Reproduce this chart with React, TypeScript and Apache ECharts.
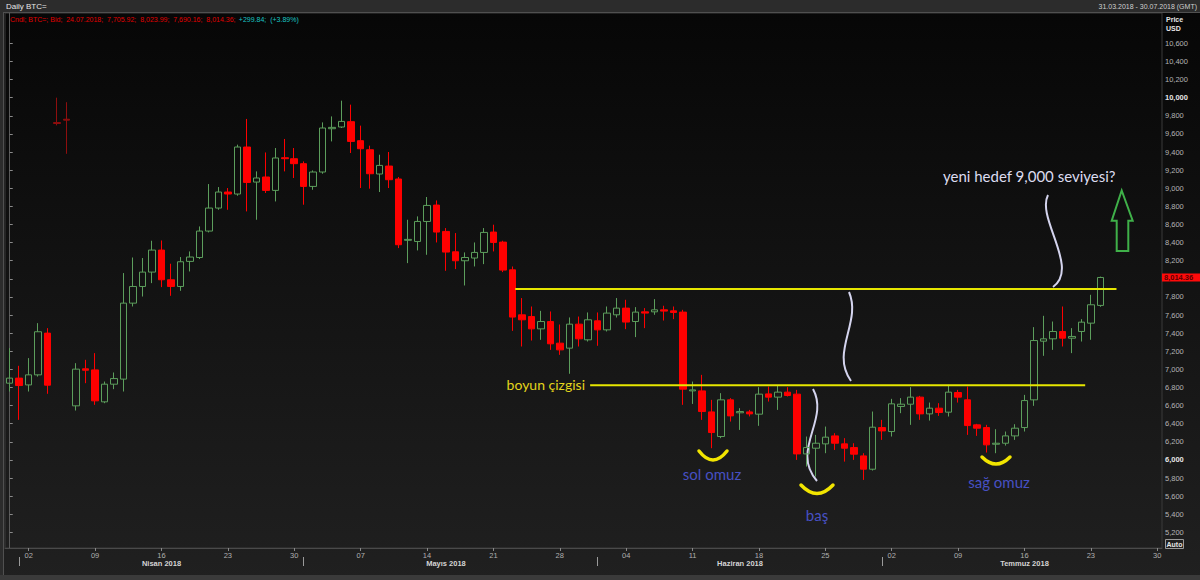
import React, { useEffect, useRef } from "react";
import * as echarts from "echarts";

// ---------- data ----------
const firstDayUTC = Date.UTC(2018, 2, 31); // 31.03.2018
const dayCount = 122; // 31.03.2018 - 30.07.2018

// daily BTC= candles, 31.03.2018 .. 24.07.2018
const open = [
  6847, 6903, 6828, 6939, 7400, 9725, 9762, 6597, 7006, 6994, 6641, 6836, 6892, 7731, 7915, 8074,
  8317, 7989, 7915, 8192, 8235, 8527, 8781, 8958, 8936, 9455, 9068, 9124, 8976, 9337, 9326,
  9271, 9020, 9179, 9657, 9676, 9735, 9525, 9425, 9157, 9245, 9102, 8425, 8412, 8633, 8814, 8523,
  8298, 8199, 8229, 8291, 8516, 8405, 8099, 7602, 7583, 7447, 7528, 7289, 7234, 7499, 7326,
  7536, 7436, 7602, 7676, 7528, 7635, 7635, 7657, 7646, 7632, 6762, 6762, 6530, 6258, 6663,
  6520, 6530, 6505, 6729, 6693, 6748, 6726, 6066, 6129, 6177, 6265, 6177, 6136, 6044, 5897,
  6357, 6313, 6590, 6615, 6693, 6508, 6571, 6527, 6744, 6663, 6387, 6357, 6173, 6184, 6265,
  6357, 6663, 7311, 7337, 7418, 7344, 7418, 7510, 7705.92,
];
const close = [
  6903, 6821, 6939, 7415, 6825, 9715, 9752, 7002, 6990, 6652, 6836, 6898, 7731, 7915, 8074, 8317,
  7989, 7915, 8188, 8240, 8527, 8781, 8958, 8936, 9455, 9064, 9113, 8976, 9334, 9326, 9271,
  9020, 9179, 9665, 9672, 9738, 9517, 9436, 9160, 9252, 9094, 8376, 8435, 8633, 8810, 8516, 8295,
  8199, 8235, 8291, 8512, 8401, 8096, 7577, 7547, 7447, 7528, 7282, 7215, 7499, 7337, 7547,
  7436, 7621, 7676, 7522, 7632, 7621, 7657, 7643, 7628, 6781, 6773, 6534, 6302, 6663, 6486,
  6534, 6508, 6726, 6693, 6748, 6711, 6066, 6136, 6184, 6251, 6184, 6129, 6063, 5897, 6361,
  6320, 6619, 6615, 6693, 6508, 6571, 6523, 6748, 6693, 6379, 6350, 6166, 6184, 6265, 6350,
  6655, 7318, 7337, 7418, 7344, 7363, 7521, 7713, 8014.36,
];
const low = [
  6755, 6442, 6755, 6920, 6730, 9694, 9380, 6545, 6847, 6608, 6626, 6781, 6755, 7694, 7804, 7952,
  7908, 7812, 7867, 8081, 8218, 8512, 8762, 8762, 8917, 8744, 8652, 8947, 8854, 9186, 9113,
  8818, 8983, 9160, 9517, 9665, 9389, 9002, 8995, 8958, 9002, 8339, 8173, 8313, 8265, 8401, 8088,
  8107, 7926, 8136, 8162, 8302, 8074, 7425, 7252, 7318, 7326, 7215, 7160, 6951, 7252, 7307,
  7260, 7418, 7572, 7444, 7356, 7455, 7602, 7539, 7554, 6608, 6618, 6442, 6129, 6240, 6423,
  6331, 6480, 6376, 6644, 6552, 6700, 6000, 5926, 5815, 6074, 6110, 5981, 6000, 5779, 5882,
  6221, 6258, 6516, 6387, 6442, 6434, 6486, 6479, 6633, 6276, 6265, 6081, 6074, 6158, 6221,
  6313, 6597, 7149, 7215, 7252, 7179, 7307, 7326, 7690.16,
];
const high = [
  7234, 7039, 7124, 7510, 7455, 10000, 9950, 7068, 7105, 7179, 6865, 6965, 8063, 8235, 8229, 8420,
  8423, 8166, 8240, 8302, 8578, 9046, 9013, 9002, 9481, 9765, 9186, 9395, 9444, 9544, 9444,
  9296, 9197, 9727, 9793, 9967, 9923, 9691, 9470, 9370, 9400, 9124, 8652, 8689, 8903, 8865, 8560,
  8505, 8291, 8401, 8560, 8597, 8420, 8136, 7787, 7694, 7646, 7639, 7495, 7573, 7583, 7628,
  7628, 7694, 7787, 7768, 7687, 7676, 7775, 7702, 7694, 7657, 6865, 6939, 6663, 6737, 6682,
  6571, 6552, 6803, 6810, 6817, 6803, 6773, 6258, 6276, 6368, 6295, 6240, 6184, 6074, 6534,
  6442, 6674, 6682, 6803, 6707, 6633, 6626, 6829, 6773, 6810, 6398, 6387, 6339, 6313, 6394,
  6718, 7466, 7591, 7528, 7694, 7455, 7554, 7823, 8023.99,
];
const badPrintDays = [5, 6]; // off-market prints on 05.04 and 06.04

const neckline = 6825; // boyun çizgisi
const neckSpan = [61.2, 113.4];
const resistance = 7888;
const resistanceSpan = [53.3, 116.7];

const lastChange = "+299.84";
const lastChangePct = "(+3.89%)";

const priceTicks = [
  5200, 5400, 5600, 5800, 6000, 6200, 6400, 6600, 6800, 7000, 7200, 7400, 7600, 7800, 8000,
  8200, 8400, 8600, 8800, 9000, 9200, 9400, 9600, 9800, 10000, 10200, 10400, 10600,
];
// 8,000 sits under the last-price tag, so it has no label of its own
const priceLabels = [
  5200, 5400, 5600, 5800, 6000, 6200, 6400, 6600, 6800, 7000, 7200, 7400, 7600, 7800,
  8200, 8400, 8600, 8800, 9000, 9200, 9400, 9600, 9800, 10000, 10200, 10400, 10600,
];
const boldTicks = [6000, 10000];
const monthNames: Record<string, string> = {
  "04": "Nisan 2018",
  "05": "Mayıs 2018",
  "06": "Haziran 2018",
  "07": "Temmuz 2018",
};

// ---------- helpers ----------
const dates: string[] = [];
for (let i = 0; i < dayCount; i++) {
  dates.push(new Date(firstDayUTC + i * 86400000).toISOString().slice(0, 10));
}
const isMonday = (v: string) => new Date(v + "T00:00:00Z").getUTCDay() === 1;
const fmt = (v: number, d = 0) =>
  v.toLocaleString("en-US", { minimumFractionDigits: d, maximumFractionDigits: d });

const AXIS_FONT = "Liberation Sans";
const NOTE_FONT = "Lato";

export default function App() {
  const ref = useRef<HTMLDivElement>(null);

  useEffect(() => {
    if (!ref.current) return;
    const chart = echarts.init(ref.current, null, { renderer: "svg" });

    const candles = open.map((o, i) => {
      const value = [o, close[i], low[i], high[i]];
      if (badPrintDays.includes(i)) {
        return {
          value,
          itemStyle: {
            color: "#8e0e0e",
            color0: "#8e0e0e",
            borderColor: "#8e0e0e",
            borderColor0: "#8e0e0e",
          },
        };
      }
      return value;
    });
    const n = open.length - 1;
    const infoRed = `Cndl; BTC=; Bid;  ${dates[n].slice(8, 10)}.${dates[n].slice(5, 7)}.${dates[n].slice(0, 4)};  ${fmt(open[n], 2)};  ${fmt(high[n], 2)};  ${fmt(low[n], 2)};  ${fmt(close[n], 2)};`;

    const staticGraphics: any[] = [
      // frame
      { type: "rect", shape: { x: 0, y: 0, width: 1200, height: 12 }, style: { fill: "#2c2c2c" }, silent: true },
      { type: "rect", shape: { x: 0, y: 0, width: 3, height: 580 }, style: { fill: "#2c2c2c" }, silent: true },
      { type: "rect", shape: { x: 0, y: 575, width: 1200, height: 5 }, style: { fill: "#3a3a3a" }, silent: true },
      { type: "line", shape: { x1: 3, y1: 12.5, x2: 1200, y2: 12.5 }, style: { stroke: "#505050", lineWidth: 1 }, silent: true },
      { type: "line", shape: { x1: 3.5, y1: 12, x2: 3.5, y2: 575 }, style: { stroke: "#505050", lineWidth: 1 }, silent: true },
      // header texts
      {
        type: "text",
        x: 6,
        y: 6.5,
        style: { text: "Daily BTC=", fill: "#e6e6e6", font: `8px '${AXIS_FONT}'`, verticalAlign: "middle" },
        silent: true,
      },
      {
        type: "text",
        x: 1197,
        y: 6.5,
        style: {
          text: "31.03.2018 - 30.07.2018 (GMT)",
          fill: "#cfcfcf",
          font: `7px '${AXIS_FONT}'`,
          align: "right",
          verticalAlign: "middle",
        },
        silent: true,
      },
      {
        type: "text",
        x: 10,
        y: 19,
        style: {
          text: `{r|${infoRed}} {c|${lastChange};  ${lastChangePct}}`,
          verticalAlign: "middle",
          rich: {
            r: { fill: "#e00000", font: `7px '${AXIS_FONT}'` },
            c: { fill: "#19c4c4", font: `7px '${AXIS_FONT}'` },
          },
        },
        silent: true,
      },
      {
        type: "text",
        x: 1166,
        y: 19,
        style: { text: "Price", fill: "#e6e6e6", font: `bold 7px '${AXIS_FONT}'`, verticalAlign: "middle" },
        silent: true,
      },
      {
        type: "text",
        x: 1166,
        y: 28,
        style: { text: "USD", fill: "#e6e6e6", font: `bold 7px '${AXIS_FONT}'`, verticalAlign: "middle" },
        silent: true,
      },
      {
        type: "rect",
        shape: { x: 1165.5, y: 539.5, width: 18, height: 9 },
        style: { fill: "#202020", stroke: "#9a9a9a", lineWidth: 1 },
        silent: true,
      },
      {
        type: "text",
        x: 1174.5,
        y: 544,
        style: { text: "Auto", fill: "#e6e6e6", font: `bold 7px '${AXIS_FONT}'`, align: "center", verticalAlign: "middle" },
        silent: true,
      },
      // annotations
      {
        type: "text",
        x: 585,
        y: 384,
        style: { text: "boyun çizgisi", fill: "#e3d51c", font: `14px '${NOTE_FONT}'`, align: "right", verticalAlign: "middle" },
        silent: true,
      },
      {
        type: "text",
        x: 943,
        y: 176,
        style: { text: "yeni hedef 9,000 seviyesi?", fill: "#dcdcf0", font: `15px '${NOTE_FONT}'`, verticalAlign: "middle" },
        silent: true,
      },
      {
        type: "text",
        x: 712,
        y: 474,
        style: { text: "sol omuz", fill: "#4750c2", font: `15px '${NOTE_FONT}'`, align: "center", verticalAlign: "middle" },
        silent: true,
      },
      {
        type: "text",
        x: 817,
        y: 515,
        style: { text: "baş", fill: "#4750c2", font: `15px '${NOTE_FONT}'`, align: "center", verticalAlign: "middle" },
        silent: true,
      },
      {
        type: "text",
        x: 999,
        y: 482,
        style: { text: "sağ omuz", fill: "#4750c2", font: `15px '${NOTE_FONT}'`, align: "center", verticalAlign: "middle" },
        silent: true,
      },
      // yellow smiles
      {
        type: "bezierCurve",
        shape: { x1: 699, y1: 451, x2: 727, y2: 451, cpx1: 713, cpy1: 469 },
        style: { stroke: "#f2e500", lineWidth: 3.5, fill: "none", lineCap: "round" },
        silent: true,
      },
      {
        type: "bezierCurve",
        shape: { x1: 801, y1: 485, x2: 833, y2: 485, cpx1: 817, cpy1: 502 },
        style: { stroke: "#f2e500", lineWidth: 3.5, fill: "none", lineCap: "round" },
        silent: true,
      },
      {
        type: "bezierCurve",
        shape: { x1: 982, y1: 457, x2: 1010, y2: 457, cpx1: 996, cpy1: 471 },
        style: { stroke: "#f2e500", lineWidth: 3.5, fill: "none", lineCap: "round" },
        silent: true,
      },
      // squiggles
      {
        type: "bezierCurve",
        shape: { x1: 849, y1: 292, cpx1: 862, cpy1: 322, cpx2: 830, cpy2: 352, x2: 851, y2: 381 },
        style: { stroke: "#d4d4ee", lineWidth: 2, fill: "none" },
        silent: true,
      },
      {
        type: "bezierCurve",
        shape: { x1: 813, y1: 389, cpx1: 830, cpy1: 420, cpx2: 790, cpy2: 450, x2: 817, y2: 481 },
        style: { stroke: "#d4d4ee", lineWidth: 2, fill: "none" },
        silent: true,
      },
      {
        type: "bezierCurve",
        shape: { x1: 1048, y1: 195, cpx1: 1036, cpy1: 218, cpx2: 1080, cpy2: 268, x2: 1053, y2: 287 },
        style: { stroke: "#d4d4ee", lineWidth: 2, fill: "none" },
        silent: true,
      },
      // green target arrow
      {
        type: "polygon",
        shape: {
          points: [
            [1121.7, 190.5],
            [1132.7, 220.7],
            [1128.3, 220.7],
            [1128.3, 251],
            [1116.7, 251],
            [1116.7, 220.7],
            [1111.7, 220.7],
          ],
        },
        style: { stroke: "#3fb049", lineWidth: 2, fill: "none", lineJoin: "miter" },
        silent: true,
      },
    ];

    const option: any = {
      animation: false,
      backgroundColor: {
        type: "linear",
        x: 0,
        y: 0,
        x2: 0,
        y2: 1,
        colorStops: [
          { offset: 0, color: "#060606" },
          { offset: 1, color: "#202020" },
        ],
      },
      grid: {
        left: 5,
        right: 38,
        top: 13,
        bottom: 32,
        show: true,
        borderColor: "#3a3a3a",
        borderWidth: 1,
        backgroundColor: "transparent",
      },
      xAxis: [
        {
          type: "category",
          data: dates,
          boundaryGap: true,
          axisLine: { lineStyle: { color: "#4a4a4a" } },
          axisTick: {
            show: true,
            alignWithLabel: true,
            interval: (_i: number, v: string) => isMonday(v),
            length: 3,
            lineStyle: { color: "#8a8a8a" },
          },
          axisLabel: {
            interval: (_i: number, v: string) => isMonday(v),
            formatter: (v: string) => v.slice(8, 10),
            color: "#b0b0b0",
            fontSize: 7.5,
            fontFamily: AXIS_FONT,
            margin: 3,
          },
          splitLine: { show: false },
        },
        {
          type: "category",
          data: dates,
          boundaryGap: true,
          position: "bottom",
          offset: 9,
          axisLine: { show: false },
          axisTick: {
            show: true,
            alignWithLabel: true,
            interval: (_i: number, v: string) => v.slice(8, 10) === "01",
            length: 9,
            lineStyle: { color: "#9a9a9a" },
          },
          axisLabel: {
            interval: (_i: number, v: string) => v.slice(8, 10) === "16",
            formatter: (v: string) => monthNames[v.slice(5, 7)] || "",
            color: "#d4d4d4",
            fontWeight: "bold",
            fontSize: 7.5,
            fontFamily: AXIS_FONT,
            margin: 2,
          },
          splitLine: { show: false },
        },
        { type: "value", min: -0.5, max: dayCount - 0.5, show: false },
      ],
      yAxis: {
        type: "value",
        position: "right",
        min: 5027,
        max: 10935,
        splitLine: { show: false },
        axisLine: { show: true, lineStyle: { color: "#5a5a5a" } },
        axisTick: {
          show: true,
          length: 3,
          customValues: priceTicks,
          lineStyle: { color: "#8a8a8a" },
        },
        axisLabel: {
          customValues: priceLabels,
          color: "#b5b5b5",
          fontSize: 7.5,
          fontFamily: AXIS_FONT,
          margin: 3,
          formatter: (v: number) => (boldTicks.includes(v) ? `{b|${fmt(v)}}` : fmt(v)),
          rich: {
            b: { fontWeight: "bold", color: "#e6e6e6", fontSize: 7.5, fontFamily: AXIS_FONT },
          },
        },
      },
      series: [
        {
          type: "candlestick",
          xAxisIndex: 0,
          yAxisIndex: 0,
          barWidth: 7,
          silent: true,
          itemStyle: {
            color: "rgba(0,0,0,0)",
            color0: "#ff0000",
            borderColor: "#5c9e5c",
            borderColor0: "#ff0000",
            borderWidth: 1,
          },
          data: candles,
          z: 2,
        },
        {
          type: "line",
          xAxisIndex: 2,
          yAxisIndex: 0,
          silent: true,
          symbol: "none",
          lineStyle: { color: "#e6e600", width: 2 },
          data: [
            [resistanceSpan[0], resistance],
            [resistanceSpan[1], resistance],
          ],
          z: 3,
        },
        {
          type: "line",
          xAxisIndex: 2,
          yAxisIndex: 0,
          silent: true,
          symbol: "none",
          lineStyle: { color: "#e6e600", width: 2 },
          data: [
            [neckSpan[0], neckline],
            [neckSpan[1], neckline],
          ],
          z: 3,
        },
      ],
      graphic: staticGraphics,
    };

    chart.setOption(option);

    // last-price tag on the price axis, placed through the axis scale
    const tagY = chart.convertToPixel({ yAxisIndex: 0 }, close[n]) as number;
    chart.setOption({
      graphic: [
        ...staticGraphics,
        {
          type: "rect",
          shape: { x: 1162, y: tagY - 4, width: 38, height: 8 },
          style: { fill: "#ff0a0a" },
          silent: true,
          z: 10,
        },
        {
          type: "text",
          x: 1164,
          y: tagY,
          style: {
            text: fmt(close[n], 2),
            fill: "#5a0000",
            font: `bold 7.5px '${AXIS_FONT}'`,
            verticalAlign: "middle",
          },
          silent: true,
          z: 11,
        },
      ],
    });

    return () => chart.dispose();
  }, []);

  return (
    <div
      ref={ref}
      style={{ position: "fixed", left: 0, top: 0, width: 1200, height: 580 }}
    />
  );
}
